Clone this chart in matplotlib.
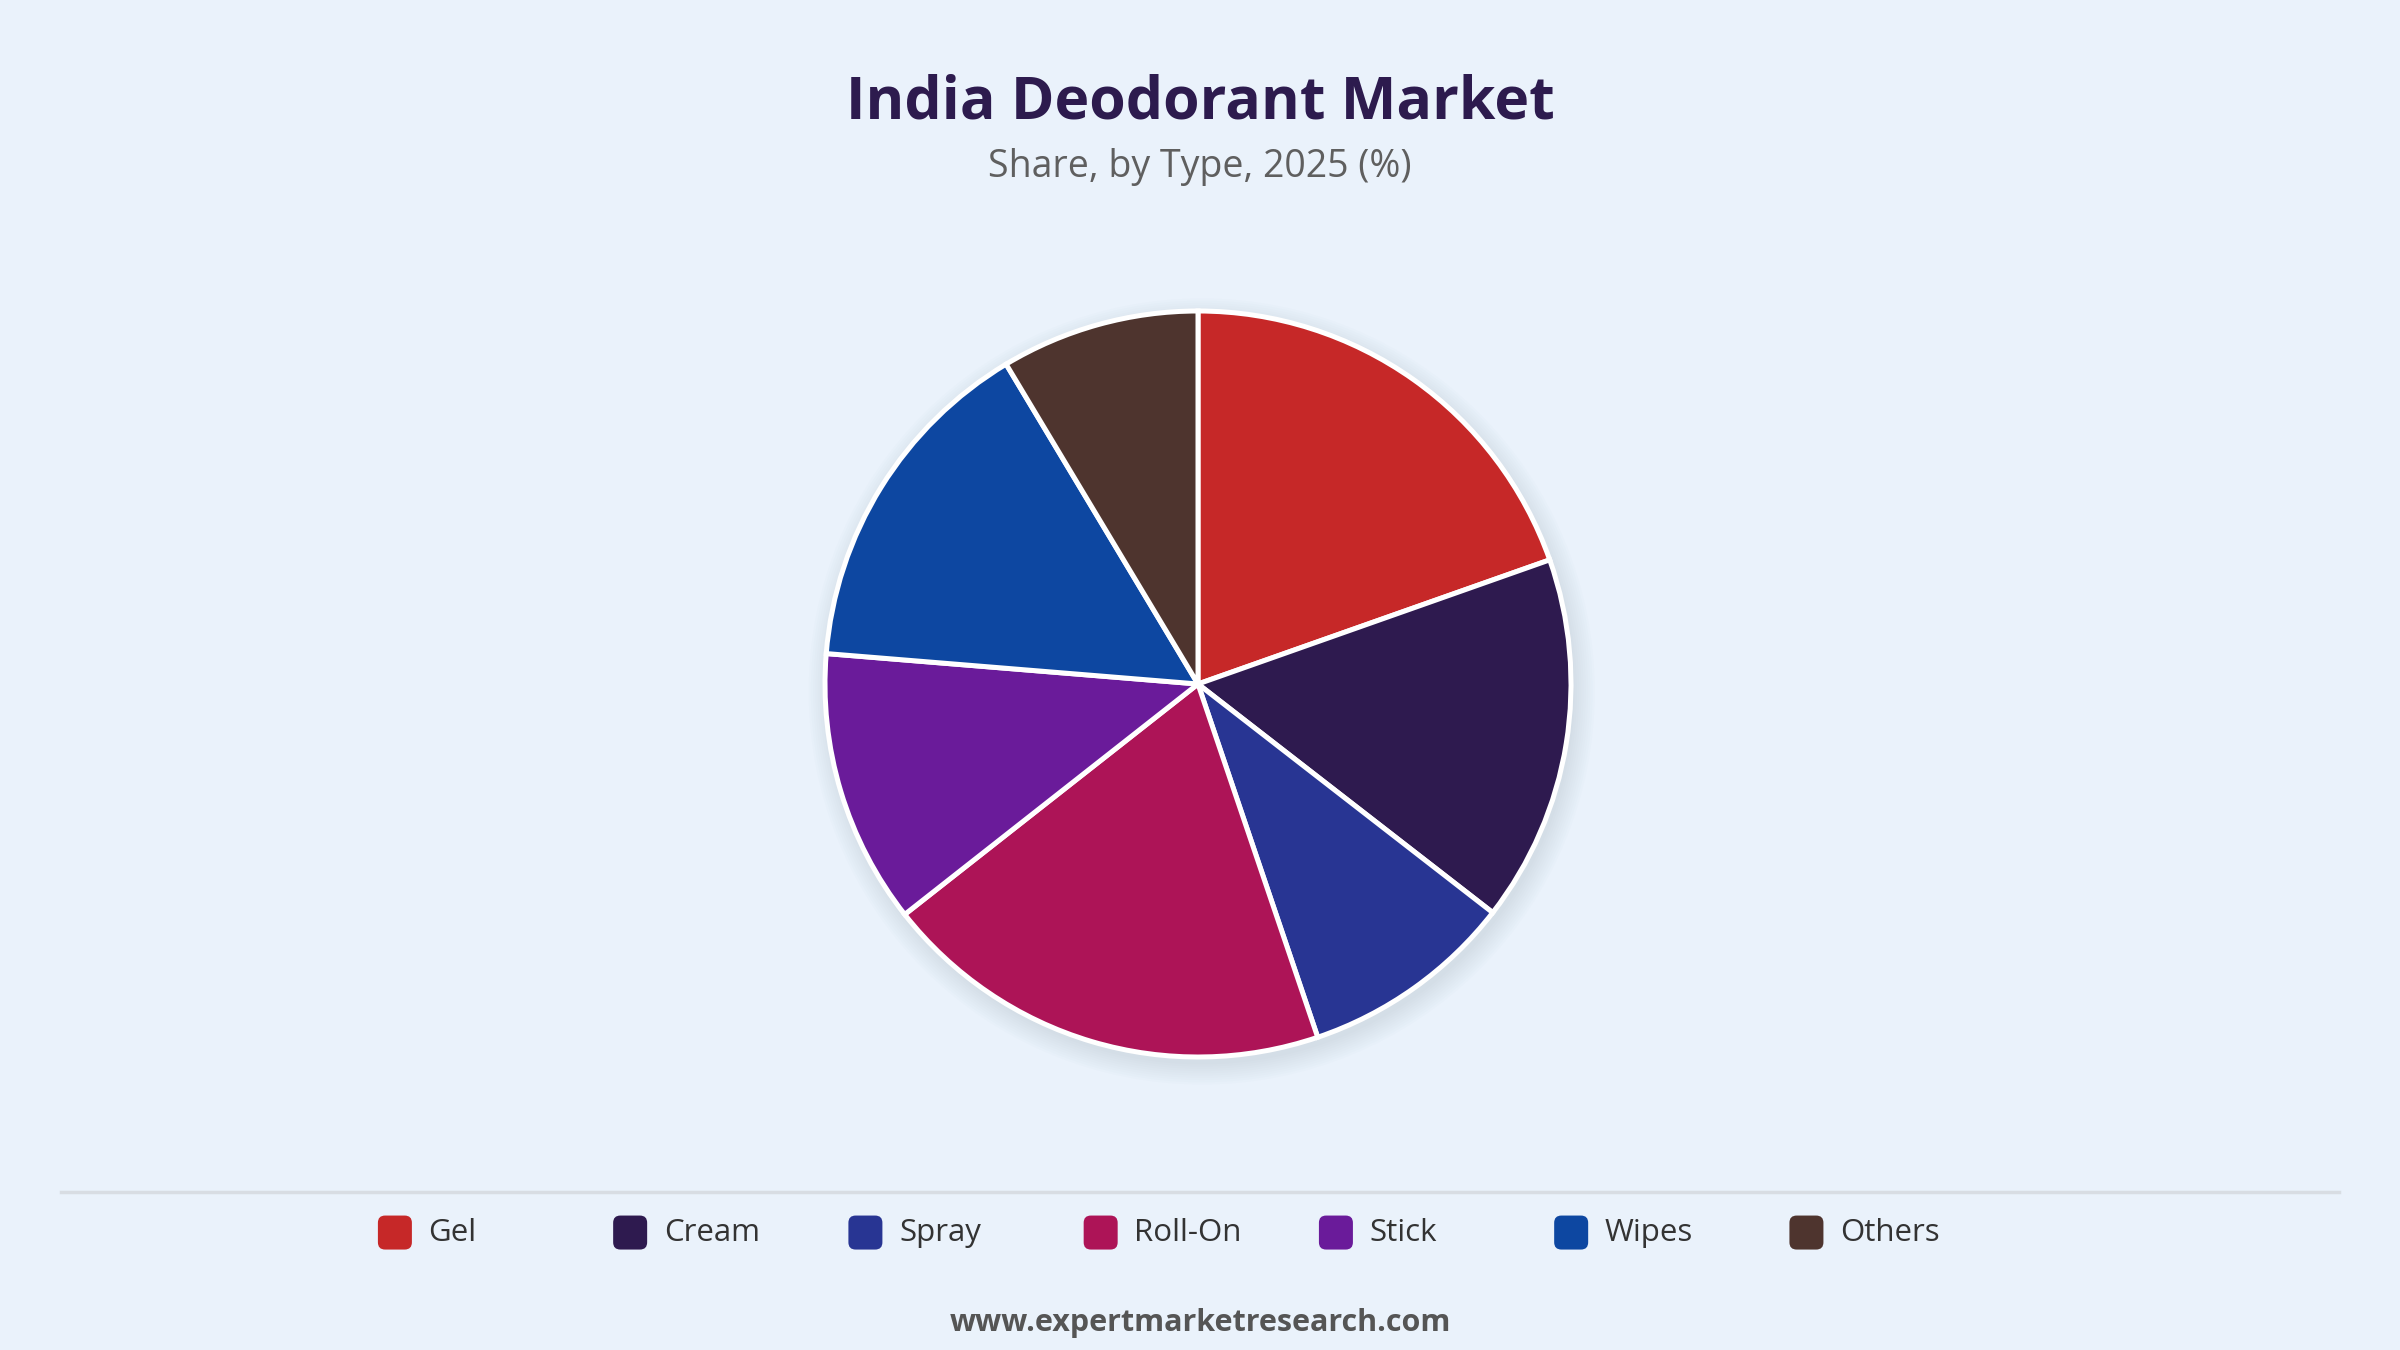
import matplotlib.pyplot as plt
from matplotlib.patches import Circle, FancyBboxPatch

# data
types = ["Gel", "Cream", "Spray", "Roll-On", "Stick", "Wipes", "Others"]
shares = [19.6, 15.9, 9.3, 19.6, 11.9, 15.1, 8.6]
colors = ["#c62828", "#2e1a4f", "#283593", "#ad1457", "#6a1b9a", "#0d47a1", "#4e342e"]

bg = "#eaf2fb"
W, H = 2400, 1350
fig = plt.figure(figsize=(24, 13.5), dpi=100, facecolor=bg)
plt.rcParams['font.family'] = ['Open Sans', 'DejaVu Sans']

# pie placement (pixels)
cx, cy, r = 1198, 1350 - 684, 373
ax = fig.add_axes([(cx - r) / W, (cy - r) / H, 2 * r / W, 2 * r / H])
ax.set_facecolor(bg)

# soft shadow
for i in range(10):
    ax.add_patch(Circle((0.01, -0.02), 1.0 + i * 0.006, color="#8090a8",
                        alpha=0.02, zorder=0, lw=0, clip_on=False))

ax.pie(shares, colors=colors, startangle=90, counterclock=False,
       wedgeprops=dict(edgecolor="white", linewidth=3.6))
ax.set_xlim(-1.0, 1.0)
ax.set_ylim(-1.0, 1.0)
ax.set_aspect("equal")
ax.axis("off")

fig.text(0.5, 0.924, "India Deodorant Market", ha="center", va="center",
         fontsize=42.5, fontweight="bold", color="#2d1b4e")
fig.text(0.5, 0.876, "Share, by Type, 2025 (%)", ha="center", va="center",
         fontsize=27, fontweight="medium", color="#5f5f5f")

# separator line
fig.add_artist(plt.Line2D([40 / 1568, 1528 / 1568], [0.117, 0.117],
                          color="#d8dde3", lw=2.5, transform=fig.transFigure))

# legend
x0, dx, ly = 258 / 1568, 153.7 / 1568, 0.087
sq_w, sq_h = 34 / W, 34 / H
for i, (name, col) in enumerate(zip(types, colors)):
    x = x0 + i * dx
    fig.add_artist(FancyBboxPatch((x - sq_w / 2, ly - sq_h / 2), sq_w, sq_h,
                                  boxstyle="round,pad=0,rounding_size=0.003",
                                  transform=fig.transFigure, facecolor=col,
                                  edgecolor="none", mutation_aspect=W / H))
    fig.text(x + 22 / 1568, ly, name, ha="left", va="center",
             fontsize=22.5, color="#333333")

fig.text(0.5, 0.020, "www.expertmarketresearch.com", ha="center", va="center",
         fontsize=22, fontweight="bold", color="#555555")

plt.savefig("out.png", dpi=100, facecolor=bg)
